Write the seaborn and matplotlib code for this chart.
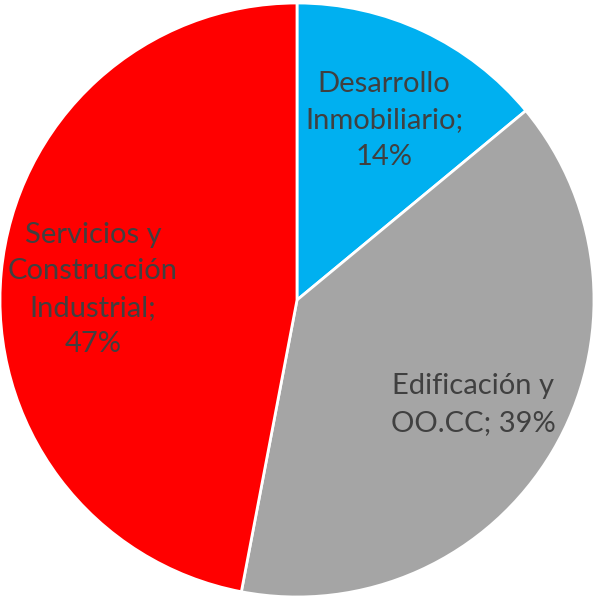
import matplotlib
matplotlib.use("Agg")
import matplotlib.pyplot as plt
import seaborn as sns

# Datos del gráfico
segmentos = ['Desarrollo\nInmobiliario;\n14%', 'Edificación y\nOO.CC; 39%',
             'Servicios y\nConstrucción\nIndustrial;\n47%']
porcentajes = [14, 39, 47]
colores = ['#00B0F0', '#A5A5A5', '#FF0000']

sns.set_theme(style="white")
plt.rcParams['font.family'] = ['Lato', 'DejaVu Sans']

fig = plt.figure(figsize=(5.95, 6.03), dpi=100)
ax = fig.add_axes([0, 0, 1, 1])

wedges, textos = ax.pie(
    porcentajes,
    labels=segmentos,
    colors=colores,
    startangle=90,
    counterclock=False,
    labeldistance=0.69,
    wedgeprops=dict(edgecolor='white', linewidth=2),
    textprops=dict(color='#404040', fontsize=21),
)

# Centrar las etiquetas dentro de cada porción
for t in textos:
    t.set_horizontalalignment('center')
    t.set_verticalalignment('center')
    t.set_linespacing(1.5)

# Pequeños ajustes de posición para parecerse al original
textos[0].set_y(textos[0].get_position()[1] - 0.02)
textos[2].set_y(textos[2].get_position()[1] - 0.03)

# Ajustar límites para que el círculo ocupe la figura como en el original
ax.set_xlim(-1.0, 1.0034)
ax.set_ylim(-1.0202, 1.0101)
ax.axis('off')

plt.savefig('out.png', dpi=100)
